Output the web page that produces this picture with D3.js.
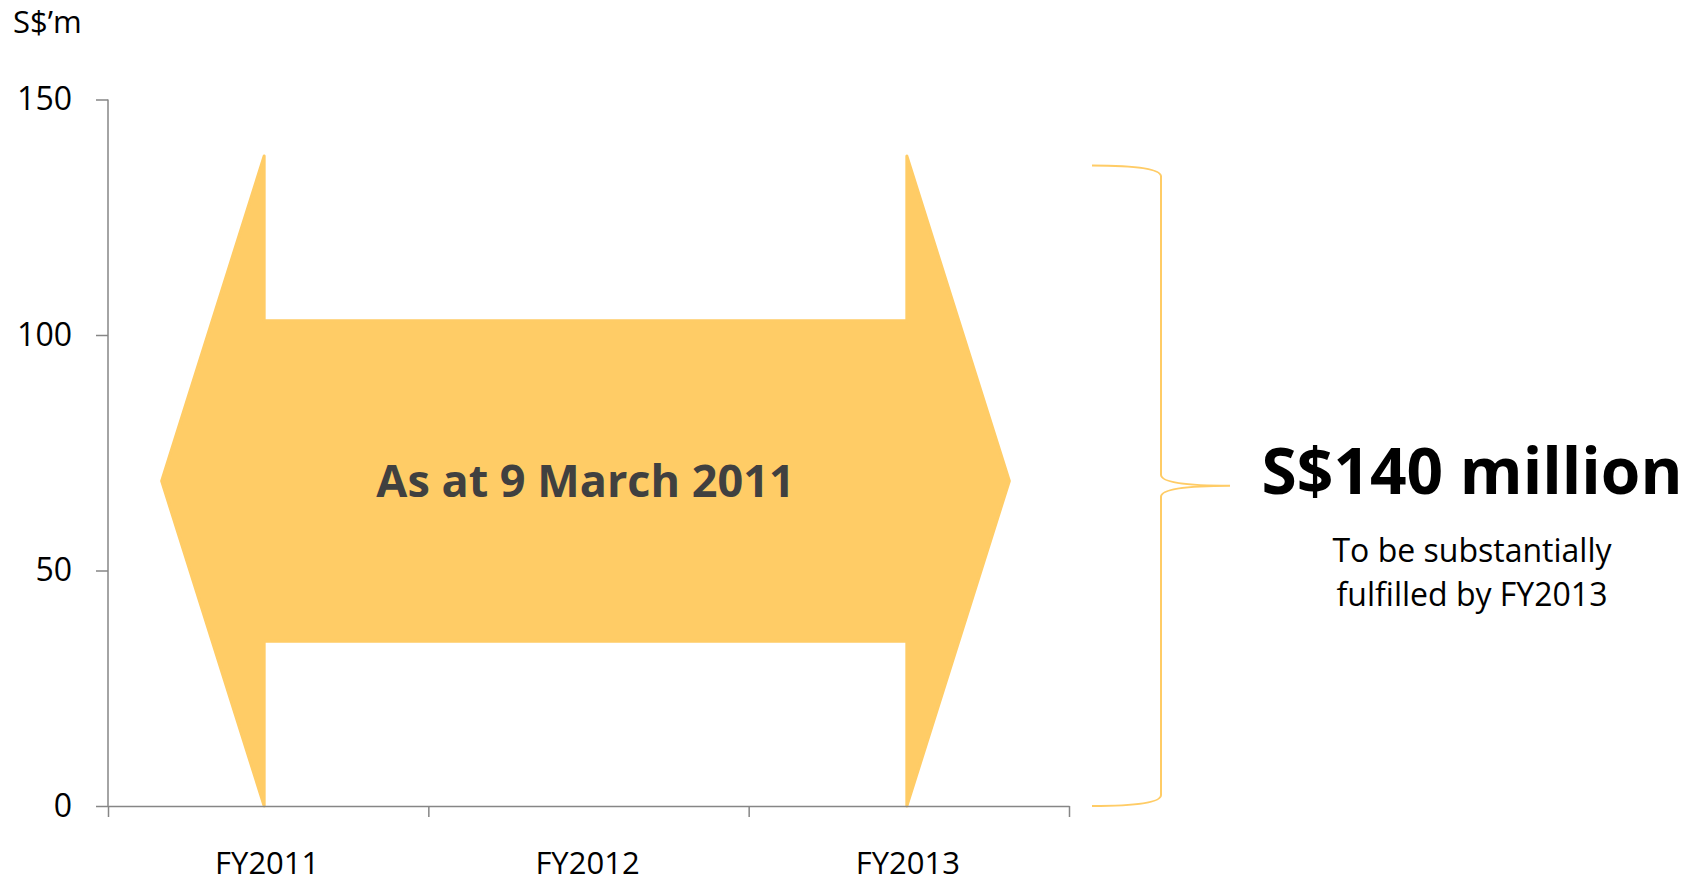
<!DOCTYPE html>
<html>
<head>
<meta charset="utf-8">
<script src="https://cdn.jsdelivr.net/npm/d3@7"></script>
<style>
  body { margin: 0; background: #fff; }
  svg text { font-family: "Open Sans", sans-serif; }
  .axis path, .axis line { stroke: #868686; stroke-width: 1.5px; }
  .axis text { fill: #000; font-size: 32px; }
</style>
</head>
<body>
<div id="chart"></div>
<script>
// data
const categories = ["FY2011", "FY2012", "FY2013"];
const yTicks = [0, 50, 100, 150];
const arrowSpan = ["FY2011", "FY2013"];
const arrowHead = [0, 138];     // value range of both arrow heads
const arrowShaft = [35, 103];   // value range of the shaft
const arrowMid = 69;            // value at the arrow tips
const braceRange = [0, 136];
const braceMid = 68;
const unitLabel = "S$’m";
const arrowLabel = "As at 9 March 2011";
const totalLabel = "S$140 million";
const noteLines = ["To be substantially", "fulfilled by FY2013"];


BacklogChart = function(_parentElement) {
  this.parentElement = _parentElement;
  this.initVis();
};

BacklogChart.prototype.initVis = function() {
  let vis = this;

  vis.margin = { top: 99.5, right: 627, bottom: 77, left: 108 };
  vis.width = 1696 - vis.margin.left - vis.margin.right;
  vis.height = 883 - vis.margin.top - vis.margin.bottom;

  vis.svg = d3.select("#" + vis.parentElement).append("svg")
    .attr("width", 1696)
    .attr("height", 883)
    .append("g")
    .attr("transform", "translate(" + vis.margin.left + "," + vis.margin.top + ")");

  vis.x = d3.scaleBand()
    .domain(categories)
    .range([0, vis.width]);

  // category index scale, used for the boundary ticks
  vis.xIdx = d3.scaleLinear()
    .domain([0, categories.length])
    .range([0, vis.width]);

  vis.y = d3.scaleLinear()
    .domain([0, 150])
    .range([vis.height, 0]);

  vis.updateVis();
};

BacklogChart.prototype.updateVis = function() {
  let vis = this;
  let bw = vis.x.bandwidth();
  let tip = bw * 0.32;

  // double headed arrow
  let xl = vis.x(arrowSpan[0]) + bw / 2 - 4;
  let xr = vis.x(arrowSpan[1]) + bw / 2 - 2;
  let pts = [
    [xl, vis.y(arrowHead[1])],
    [xl, vis.y(arrowShaft[1])],
    [xr, vis.y(arrowShaft[1])],
    [xr, vis.y(arrowHead[1])],
    [xr + tip, vis.y(arrowMid)],
    [xr, vis.y(arrowHead[0])],
    [xr, vis.y(arrowShaft[0])],
    [xl, vis.y(arrowShaft[0])],
    [xl, vis.y(arrowHead[0])],
    [xl - tip, vis.y(arrowMid)]
  ];

  vis.svg.append("path")
    .attr("class", "arrow")
    .attr("d", d3.line()(pts) + "Z")
    .style("fill", "#FFCC66")
    .attr("stroke", "#FFCC66")
    .attr("stroke-width", 3)
    .attr("stroke-linejoin", "round");

  vis.svg.append("text")
    .attr("x", vis.x("FY2012") + bw / 2 - 3)
    .attr("y", vis.y(arrowMid) + 16)
    .attr("text-anchor", "middle")
    .style("font-size", "45px")
    .style("font-weight", "bold")
    .style("fill", "#404040")
    .text(arrowLabel);

  // axes
  vis.yAxis = d3.axisLeft(vis.y)
    .tickValues(yTicks)
    .tickSizeInner(12)
    .tickSizeOuter(12)
    .tickPadding(24);

  vis.xAxis = d3.axisBottom(vis.xIdx)
    .tickValues(d3.range(categories.length + 1))
    .tickFormat("")
    .tickSizeInner(11)
    .tickSizeOuter(0);

  vis.svg.append("g")
    .attr("class", "y-axis axis")
    .call(vis.yAxis)
    .call(g => g.select(".domain").attr("d", "M0," + vis.y(150) + "V" + vis.y(0)));

  vis.svg.append("g")
    .attr("class", "x-axis axis")
    .attr("transform", "translate(0," + vis.height + ")")
    .call(vis.xAxis);

  vis.svg.selectAll(".cat-label")
    .data(categories)
    .enter().append("text")
    .attr("class", "cat-label")
    .attr("x", d => vis.x(d) + bw / 2 - 1)
    .attr("y", vis.height + 68)
    .attr("text-anchor", "middle")
    .style("font-size", "31px")
    .style("fill", "#000")
    .text(d => d);

  vis.svg.append("text")
    .attr("x", 13 - vis.margin.left)
    .attr("y", 33 - vis.margin.top)
    .style("font-size", "31px")
    .style("fill", "#000")
    .text(unitLabel);

  // curly brace on the right
  let x0 = vis.width + 23, xv = vis.width + 92, xt = vis.width + 161, r = 11;
  let yTop = vis.y(braceRange[1]), yBot = vis.y(braceRange[0]), yMid = vis.y(braceMid);
  let p = d3.path();
  p.moveTo(x0, yTop);
  p.quadraticCurveTo(xv, yTop, xv, yTop + r);
  p.lineTo(xv, yMid - r);
  p.quadraticCurveTo(xv, yMid, xt, yMid);
  p.moveTo(xt, yMid);
  p.quadraticCurveTo(xv, yMid, xv, yMid + r);
  p.lineTo(xv, yBot - r);
  p.quadraticCurveTo(xv, yBot, x0, yBot);

  vis.svg.append("path")
    .attr("d", p.toString())
    .attr("fill", "none")
    .attr("stroke", "#FFCC66")
    .attr("stroke-width", 2);

  let cx = 1472 - vis.margin.left;
  vis.svg.append("text")
    .attr("x", cx)
    .attr("y", yMid + 8)
    .attr("text-anchor", "middle")
    .style("font-size", "64px")
    .style("font-weight", "bold")
    .style("fill", "#000")
    .text(totalLabel);

  vis.svg.selectAll(".note")
    .data(noteLines)
    .enter().append("text")
    .attr("class", "note")
    .attr("x", cx)
    .attr("y", (d, i) => yMid + 76 + i * 44)
    .attr("text-anchor", "middle")
    .style("font-size", "32px")
    .style("fill", "#000")
    .text(d => d);
};

new BacklogChart("chart");
</script>
</body>
</html>
